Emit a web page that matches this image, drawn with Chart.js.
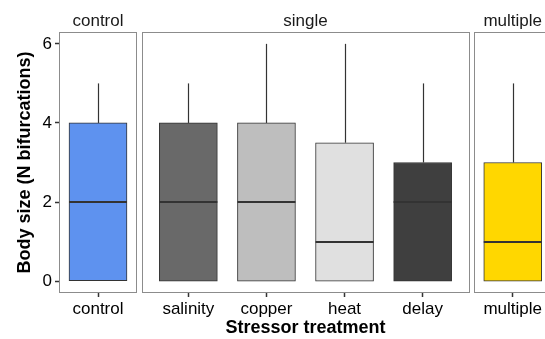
<!DOCTYPE html>
<html>
<head>
<meta charset="utf-8">
<script src="https://cdn.jsdelivr.net/npm/chart.js@4.4.0/dist/chart.umd.min.js"></script>
<style>
  body { margin: 0; background: #fff; overflow: hidden; width: 545px; height: 339px; position: relative; }
  canvas { position: absolute; top: 0; }
</style>
</head>
<body>
<canvas id="cControl" width="138" height="339" style="left:0px"></canvas>
<canvas id="cSingle" width="331" height="339" style="left:140px"></canvas>
<canvas id="cMultiple" width="80" height="339" style="left:472px"></canvas>
<script>
// boxplot summaries, one entry per stressor treatment
const categories = ["control", "salinity", "copper", "heat", "delay", "multiple"];
const facets     = ["control", "single", "single", "single", "single", "multiple"];
const lowerWhisker = [0, 0, 0, 0, 0, 0];
const q1           = [0, 0, 0, 0, 0, 0];
const median       = [2, 2, 2, 1, 2, 1];
const q3           = [4, 4, 4, 3.5, 3, 3];
const upperWhisker = [5, 5, 6, 6, 5, 5];
const yTicks = [0, 2, 4, 6];

const fills = ["#5e92ef", "#696969", "#bebebe", "#e0e0e0", "#3f3f3f", "#ffd700"];
const FONT = "'Liberation Sans', Arial, Helvetica, sans-serif";
const INK = "#333333";

function makePanel(canvasId, facet, xRange, showY, showXTitle, pad) {
  const idx = categories.map((c, i) => i).filter(i => facets[i] === facet);
  const labels = idx.map(i => categories[i]);

  const boxExtras = {
    id: "boxExtras",
    beforeDatasetsDraw(chart) {
      const { ctx, scales: { y } } = chart;
      const meta = chart.getDatasetMeta(0);
      ctx.save();
      ctx.strokeStyle = INK;
      ctx.lineWidth = 1.2;
      meta.data.forEach((bar, k) => {
        const i = idx[k];
        const x = Math.round(bar.x) + 0.5;
        ctx.beginPath();
        ctx.moveTo(x, y.getPixelForValue(q3[i]));
        ctx.lineTo(x, y.getPixelForValue(upperWhisker[i]));
        ctx.moveTo(x, y.getPixelForValue(lowerWhisker[i]));
        ctx.lineTo(x, y.getPixelForValue(q1[i]));
        ctx.stroke();
      });
      ctx.restore();
    },
    afterDatasetsDraw(chart) {
      const { ctx, chartArea: a, scales: { y } } = chart;
      const meta = chart.getDatasetMeta(0);
      ctx.save();
      // medians
      ctx.strokeStyle = INK;
      ctx.lineWidth = 2;
      meta.data.forEach((bar, k) => {
        const i = idx[k];
        const py = Math.round(y.getPixelForValue(median[i]));
        ctx.beginPath();
        ctx.moveTo(bar.x - bar.width / 2, py);
        ctx.lineTo(bar.x + bar.width / 2, py);
        ctx.stroke();
      });
      // panel border
      ctx.strokeStyle = "#8c8c8c";
      ctx.lineWidth = 1;
      ctx.strokeRect(Math.round(a.left) + 0.5, Math.round(a.top) + 0.5,
        Math.round(a.right - a.left) - 1, Math.round(a.bottom - a.top) - 1);
      // strip label
      ctx.fillStyle = "#1a1a1a";
      ctx.font = "17px " + FONT;
      ctx.textAlign = "center";
      ctx.textBaseline = "middle";
      ctx.fillText(facet, (a.left + a.right) / 2, a.top - 11);
      ctx.restore();
    }
  };

  return new Chart(document.getElementById(canvasId), {
    type: "bar",
    data: {
      datasets: [{
        data: idx.map((i, k) => ({ x: k + 1, y: [q1[i], q3[i]] })),
        backgroundColor: idx.map(i => fills[i]),
        borderColor: INK,
        borderWidth: 1,
        borderSkipped: false,
        barThickness: 58
      }]
    },
    options: {
      responsive: false,
      animation: false,
      layout: { padding: { top: 32, bottom: 0, left: pad[0], right: pad[1] } },
      plugins: { legend: { display: false }, tooltip: { enabled: false }, title: { display: false } },
      scales: {
        x: {
          type: "linear",
          offset: false,
          min: xRange[0],
          max: xRange[1],
          afterFit: s => { s.height = 46; s.paddingLeft = 0; s.paddingRight = 0; },
          afterBuildTicks: s => { s.ticks = labels.map((l, k) => ({ value: k + 1 })); },
          ticks: {
            callback: v => labels[v - 1],
            color: "#000",
            font: { family: FONT, size: 17 },
            padding: 2,
            maxRotation: 0,
            autoSkip: false
          },
          grid: { offset: false, drawOnChartArea: false, drawTicks: true, tickLength: 4,
                  color: INK, tickColor: INK, tickWidth: 1.5 },
          border: { display: false },
          title: {
            display: showXTitle,
            text: "Stressor treatment",
            color: "#000",
            font: { family: FONT, size: 18, weight: "bold", lineHeight: 1.2 },
            padding: { top: 0, bottom: 0 }
          }
        },
        y: {
          display: showY,
          min: -0.3,
          max: 6.3,
          afterFit: s => { s.width = showY ? 59 : 0; },
          afterBuildTicks: s => { s.ticks = yTicks.map(v => ({ value: v })); },
          ticks: {
            color: "#000",
            font: { family: FONT, size: 17 },
            padding: 3
          },
          grid: { drawOnChartArea: false, drawTicks: true, tickLength: 4,
                  color: INK, tickColor: INK, tickWidth: 1.5 },
          border: { display: false },
          title: {
            display: showY,
            text: "Body size (N bifurcations)",
            color: "#000",
            font: { family: FONT, size: 18, weight: "bold", lineHeight: 1.2 },
            padding: { top: 14, bottom: 0 }
          }
        }
      }
    },
    plugins: [boxExtras]
  });
}

makePanel("cControl", "control", [0.5, 1.5], true, false, [0, 1]);
makePanel("cSingle", "single", [0.4, 4.6], false, true, [1.5, 1.5]);
makePanel("cMultiple", "multiple", [0.5, 1.5], false, false, [1.5, 0]);
</script>
</body>
</html>
